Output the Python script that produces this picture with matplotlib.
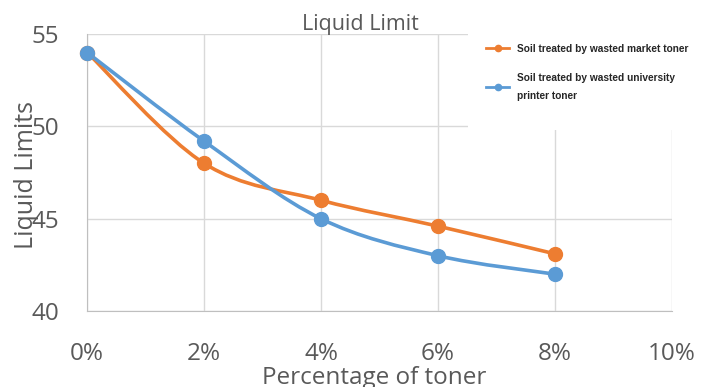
import numpy as np
import matplotlib.pyplot as plt
from matplotlib.path import Path
from matplotlib.patches import PathPatch, Rectangle
from matplotlib.lines import Line2D

toner_pct = [0, 2, 4, 6, 8]
market_toner = [54.0, 48.0, 46.0, 44.6, 43.1]
university_toner = [54.0, 49.2, 45.0, 43.0, 42.0]

x_ticks = [0, 2, 4, 6, 8, 10]
x_tick_labels = ["0%", "2%", "4%", "6%", "8%", "10%"]
y_ticks = [40, 45, 50, 55]

ORANGE = "#ED7D31"
BLUE = "#5B9BD5"
GREY = "#595959"
GRID = "#D9D9D9"

plt.rcParams["font.family"] = ["Open Sans", "DejaVu Sans"]


def smooth_path(xs, ys):
    # Catmull-Rom style bezier segments, like a spreadsheet "smoothed line"
    pts = np.column_stack([xs, ys]).astype(float)
    n = len(pts)
    verts = [pts[0]]
    codes = [Path.MOVETO]
    for i in range(n - 1):
        p0 = pts[i - 1] if i > 0 else pts[i]
        p1 = pts[i]
        p2 = pts[i + 1]
        p3 = pts[i + 2] if i + 2 < n else pts[i + 1]
        c1 = p1 + (p2 - p0) / 6.0
        c2 = p2 - (p3 - p1) / 6.0
        verts += [c1, c2, p2]
        codes += [Path.CURVE4] * 3
    return Path(verts, codes)


fig = plt.figure(figsize=(7.03, 3.87), dpi=100)
ax = fig.add_axes([0.124, 0.196, 0.832, 0.716])

for ys, col in [(market_toner, ORANGE), (university_toner, BLUE)]:
    ax.add_patch(PathPatch(smooth_path(toner_pct, ys), facecolor="none",
                           edgecolor=col, lw=2.6, zorder=3, capstyle="round"))
    ax.plot(toner_pct, ys, linestyle="none", marker="o", markersize=10,
            color=col, zorder=4, clip_on=False)

ax.set_xlim(0, 10)
ax.set_ylim(40, 55)
ax.set_xticks(x_ticks)
ax.set_xticklabels(x_tick_labels)
ax.set_yticks(y_ticks)
ax.grid(True, color=GRID, lw=1)
ax.set_axisbelow(True)
for side in ["top", "right"]:
    ax.spines[side].set_visible(False)
for side in ["left", "bottom"]:
    ax.spines[side].set_color("#BFBFBF")
ax.tick_params(axis="both", length=0, colors=GREY, labelsize=17.5)
ax.tick_params(axis="x", pad=22)
ax.tick_params(axis="y", pad=20)

fig.text(0.532, 0.022, "Percentage of toner", fontsize=17.5, color=GREY,
         ha="center", va="center")
fig.text(0.038, 0.548, "Liquid Limits", rotation=90, fontsize=18,
         color=GREY, ha="center", va="center")
fig.text(0.513, 0.936, "Liquid Limit", fontsize=15.5, color=GREY,
         ha="center", va="center")

# white box behind the legend, hiding the grid in the top-right corner
fig.patches.append(Rectangle((0.666, 0.665), 0.334, 0.28,
                             transform=fig.transFigure, facecolor="white",
                             edgecolor="none", zorder=4))

handles = [
    Line2D([], [], color=ORANGE, lw=2, marker="o", markersize=4.5),
    Line2D([], [], color=BLUE, lw=2, marker="o", markersize=4.5),
]
labels = ["Soil treated by wasted market toner",
          "Soil treated by wasted university\nprinter toner"]
leg = fig.legend(handles, labels, loc="upper left",
                 bbox_to_anchor=(0.684, 0.9), frameon=False,
                 handlelength=2.3, handletextpad=0.75, labelspacing=1.9,
                 borderpad=0.0,
                 prop={"family": ["Liberation Sans", "DejaVu Sans"],
                       "weight": "bold", "size": 7.3})
leg.set_zorder(5)
for t in leg.get_texts():
    t.set_color("#262626")
    t.set_linespacing(2.0)

fig.savefig("out.png", dpi=100)
